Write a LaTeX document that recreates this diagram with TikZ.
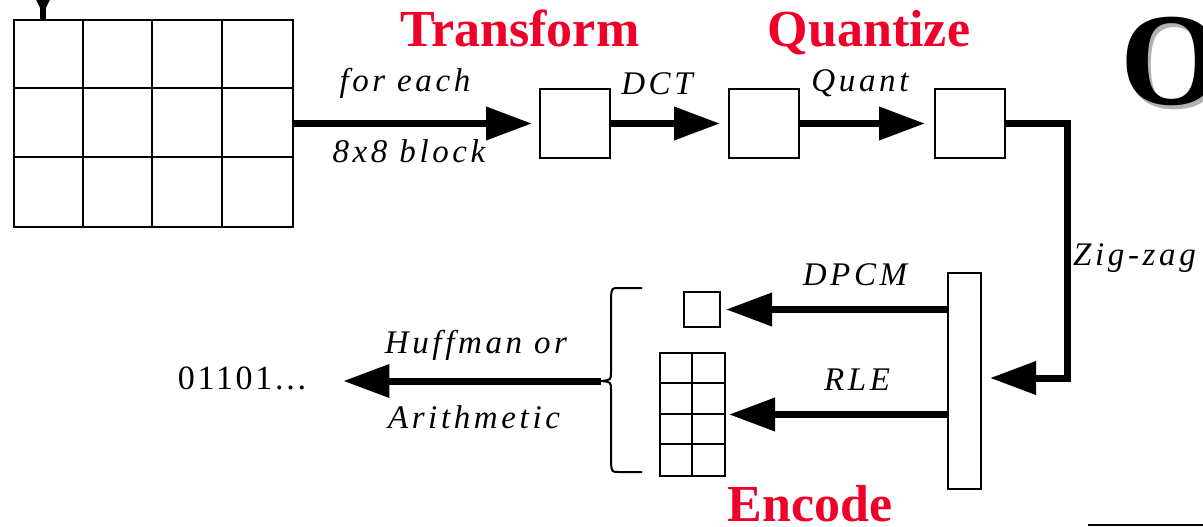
\documentclass[tikz,border=0pt]{standalone}
\usepackage{fontspec}
\setmainfont{Liberation Serif}
\newfontfamily\lblfont[LetterSpace=11]{Liberation Serif}
\newfontfamily\bitfont[LetterSpace=8]{Liberation Serif}
\usetikzlibrary{arrows.meta,calc}
\definecolor{titlered}{RGB}{240,0,40}
\tikzset{
  cell/.style={draw, line width=2pt, inner sep=0pt, anchor=north west},
  lbl/.style={font=\fontsize{33}{33}\lblfont\itshape, inner sep=0pt, anchor=base},
  title/.style={font=\fontsize{52}{52}\selectfont\bfseries, text=titlered, inner sep=0pt, anchor=base},
  flow/.style={line width=7pt, line join=miter, -{Triangle[length=46pt,width=32pt]}},
  thin/.style={line width=2pt},
}
\begin{document}
\begin{tikzpicture}[x=1pt,y=-1pt]
\useasboundingbox (0,0) rectangle (1203,527);
\clip (0,0) rectangle (1203,527);

% image split into blocks
\node[cell, minimum width=279pt, minimum height=207pt] (frame) at (13,19) {};
\foreach \x in {83,152,222} \draw[thin] (\x,19) -- (\x,226);
\foreach \y in {88,157} \draw[thin] (13,\y) -- (292,\y);

% incoming feed from above
\coordinate (feed) at (43,-60);
\draw[line width=6pt] (feed) -- (feed |- frame.north);
\draw[line width=6pt, -{Triangle[length=46pt,width=44pt]}] (feed) -- (43,14);

% per-block pipeline
\node[cell, minimum width=70pt, minimum height=69pt] (b1) at (539,88) {};
\node[cell, minimum width=70pt, minimum height=69pt] (b2) at (728,88) {};
\node[cell, minimum width=70pt, minimum height=69pt] (b3) at (934,88) {};

\draw[flow] (frame.east) -- ([xshift=-7pt]b1.west);
\draw[flow] (b1.east) -- ([xshift=-8pt]b2.west);
\draw[flow] (b2.east) -- ([xshift=-9pt]b3.west);

\node[lbl] at (405,92) {for each};
\node[lbl] at (409,162) {8x8 block};
\node[lbl] at (657,95) {DCT};
\node[lbl] at (860,92) {Quant};

\node[title] at (520,47) {Transform};
\node[title] at (869,47) {Quantize};

% big heading letter with shadow
\node[font=\fontsize{132}{132}\selectfont\bfseries, text=black!30, inner sep=0pt, anchor=base west] at (1123,108) {O};
\node[font=\fontsize{132}{132}\selectfont\bfseries, inner sep=0pt, anchor=base west] (bigO) at (1120,105) {O};

% zig-zag scan into the coefficient vector
\node[cell, minimum width=33pt, minimum height=216pt] (vec) at (947,272) {};
\coordinate (zz) at (1067,378);
\draw[flow] (b3.east) -| (zz) -- ([xshift=8pt]vec.east |- zz);
\node[lbl, anchor=base west] at (1073,265) {Zig-zag};

% DC and AC coding
\node[cell, minimum width=36pt, minimum height=35pt] (dc) at (683,291) {};
\node[cell, minimum width=65pt, minimum height=123pt] (ac) at (659,352) {};
\draw[thin] (691.5,352) -- (691.5,475);
\foreach \y in {383,414,444} \draw[thin] (659,\y) -- (724,\y);

\draw[flow] (vec.west |- dc.east) -- ([xshift=5pt]dc.east);
\draw[flow] (vec.west |- ac.east) -- ([xshift=3pt]ac.east);
\node[lbl] at (855,285) {DPCM};
\node[lbl] at (857,390) {RLE};

% brace gathering both streams
\coordinate (brtop) at (642,288);
\coordinate (brbot) at (642,472);
\coordinate (brtip) at (601,381);
\draw[thin] (brtop) -- (619,288) .. controls (612,288) .. (611,296) -- (611,372)
  .. controls (611,380) .. (brtip) .. controls (611,382) .. (611,390) -- (611,464)
  .. controls (612,472) .. (619,472) -- (brbot);

% entropy coding to bitstream
\node[font=\fontsize{34}{34}\bitfont, inner sep=0pt] (bits) at (242,378) {01101...};
\draw[flow] (brtip) -- ([xshift=37pt]bits.east |- brtip);
\node[lbl] at (476,353) {Huffman or};
\node[lbl] at (474,428) {Arithmetic};

\node[title] at (810,521) {Encode};

% rule at lower right
\coordinate (ruleA) at (1088,525);
\coordinate (ruleB) at (1203,525);
\draw[thin] (ruleA) -- (ruleB);
\end{tikzpicture}
\end{document}
